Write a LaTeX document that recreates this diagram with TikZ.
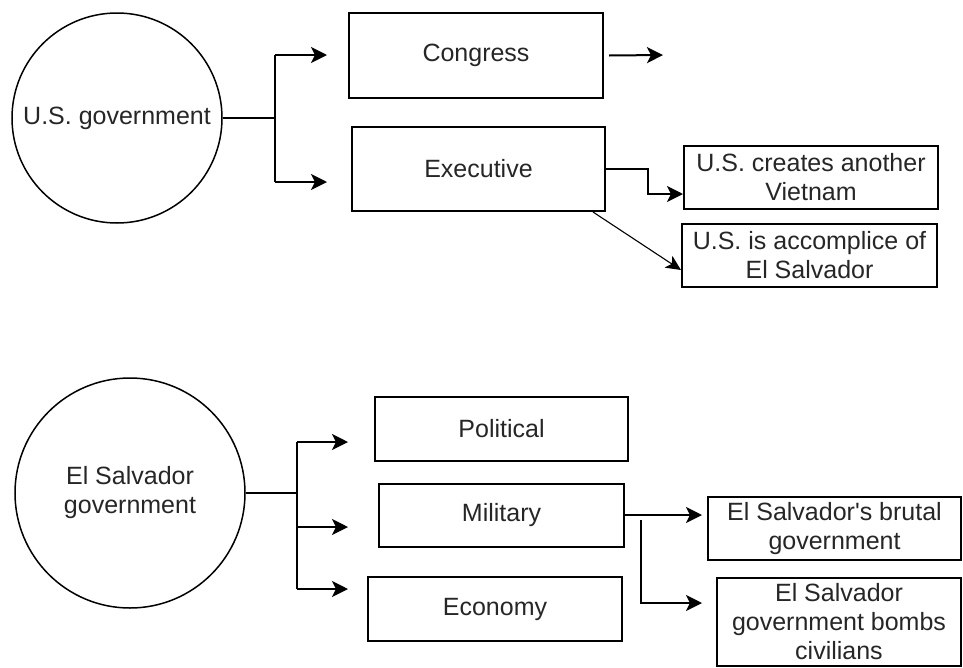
\documentclass[tikz,border=0pt]{standalone}
\usepackage{fontspec}
\setmainfont{Liberation Sans}[Ligatures=TeXOff]
\usetikzlibrary{arrows.meta}
\begin{document}
\begin{tikzpicture}[x=1pt,y=-1pt,
  every node/.style={font=\fontsize{25}{29}\selectfont, text=black!85, align=center, inner sep=0pt},
  govcircle/.style={circle, draw, line width=1.5pt},
  topic/.style={rectangle, draw, line width=2pt},
  wire/.style={line width=2pt},
  arrowline/.style={wire, -{Stealth[length=16pt, width=16pt, inset=4pt]}},
  thinarrow/.style={line width=1.1pt, -{Stealth[length=15pt, width=14pt, inset=4pt]}}]
\useasboundingbox (0,0) rectangle (963,667);

% ---------- U.S. government ----------
\node[govcircle, minimum size=210pt] (usgov) at (117,118) {U.S. government};
\node[topic, minimum width=254pt, minimum height=85pt] (congress) at (476,55.5) {Congress};
\node[topic, minimum width=253pt, minimum height=84pt] (executive) at (478.5,169) {Executive};
\node[topic, minimum width=254pt, minimum height=63pt] (vietnam) at (811,177.5) {U.S. creates another\\Vietnam};
\node[topic, minimum width=255pt, minimum height=63pt] (accomplice) at (809.5,255.5) {U.S. is accomplice of\\El Salvador};

\coordinate (usfork) at (275,118);
\coordinate (usup) at (275,55);
\coordinate (usdown) at (275,182);
\coordinate (tocongress) at (327,55);
\coordinate (toexecutive) at (327,182);
\coordinate (congressout) at (663,55);

\draw[wire] (usgov.east) -- (usfork);
\draw[wire] (usup) -- (usdown);
\draw[arrowline] (usup) -- (tocongress);
\draw[arrowline] (usdown) -- (toexecutive);
\draw[arrowline] ([xshift=5pt]congress.east) -- (congressout);
\draw[arrowline] (executive.east) -- ++(42,0) |- ([yshift=-16.5pt]vietnam.west);
\draw[thinarrow] ([xshift=-13pt]executive.south east) -- ([yshift=-14.5pt]accomplice.west);

% ---------- El Salvador government ----------
\node[govcircle, minimum size=230pt] (esgov) at (130,493) {El Salvador\\government};
\node[topic, minimum width=253pt, minimum height=64pt] (political) at (501.5,429) {Political};
\node[topic, minimum width=245pt, minimum height=63pt] (military) at (501.5,515) {Military};
\node[topic, minimum width=254pt, minimum height=64pt] (economy) at (495,609) {Economy};
\node[topic, minimum width=253pt, minimum height=63pt] (brutal) at (834.5,528.5) {El Salvador's brutal\\government};
\node[topic, minimum width=244pt, minimum height=88pt] (bombs) at (839,621.5) {El Salvador\\government bombs\\civilians};

\coordinate (esfork) at (297,493);
\coordinate (esup) at (297,442);
\coordinate (esmid) at (297,527);
\coordinate (esdown) at (297,589);
\coordinate (topolitical) at (348,442);
\coordinate (tomilitary) at (348,527);
\coordinate (toeconomy) at (348,589);
\coordinate (milbranch) at (641,520);

\draw[wire] (esgov.east) -- (esfork);
\draw[wire] (esup) -- (esdown);
\draw[arrowline] (esup) -- (topolitical);
\draw[arrowline] (esmid) -- (tomilitary);
\draw[arrowline] (esdown) -- (toeconomy);
\draw[arrowline] (military.east) -- ([xshift=-5pt,yshift=13.5pt]brutal.west);
\draw[arrowline] (milbranch) |- ([xshift=-14pt,yshift=18.5pt]bombs.west);
\end{tikzpicture}
\end{document}
